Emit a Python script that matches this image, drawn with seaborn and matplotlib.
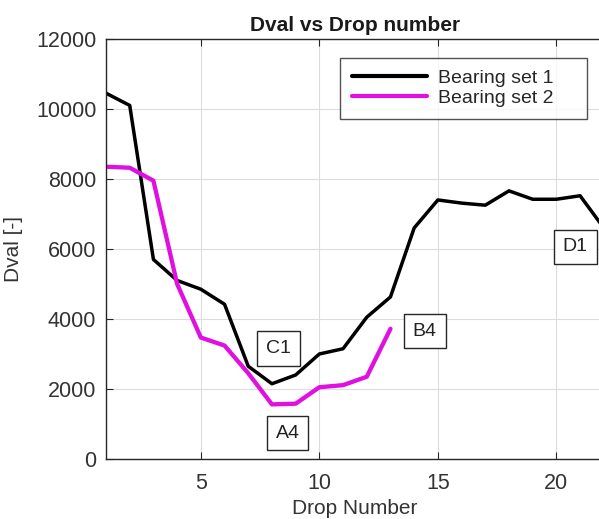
import numpy as np
import pandas as pd
import matplotlib
matplotlib.use("Agg")
import matplotlib.pyplot as plt
import seaborn as sns

# Dval readings per drop for each bearing set
drops_set1 = list(range(1, 23))
dval_set1 = [10450, 10100, 5700, 5100, 4850, 4420, 2650, 2150, 2400, 3000,
             3150, 4050, 4630, 6600, 7400, 7310, 7250, 7660, 7420, 7420,
             7520, 6600]
drops_set2 = list(range(1, 14))
dval_set2 = [8350, 8320, 7950, 5000, 3470, 3240, 2450, 1560, 1580, 2050,
             2110, 2350, 3720]

series_names = ["Bearing set 1", "Bearing set 2"]
series_colors = ["#000000", "#e010e0"]

# Labelled points: (label, drop number, Dval)
box_labels = ["C1", "A4", "B4", "D1"]
box_x = [8.28, 8.66, 14.45, 20.8]
box_y = [3150, 740, 3650, 6060]

df = pd.concat([
    pd.DataFrame({"Drop": drops_set1, "Dval": dval_set1, "Set": series_names[0]}),
    pd.DataFrame({"Drop": drops_set2, "Dval": dval_set2, "Set": series_names[1]}),
], ignore_index=True)

sns.set_theme(style="whitegrid")
plt.rcParams["font.family"] = ["Liberation Sans", "DejaVu Sans"]

fig = plt.figure(figsize=(5.99, 5.19), dpi=100)
ax = fig.add_axes([0.177, 0.1156, 0.831, 0.8094])

sns.lineplot(data=df, x="Drop", y="Dval", hue="Set", palette=series_colors,
             linewidth=2.5, ax=ax, legend=True)
# the second set is drawn a little heavier
ax.get_lines()[1].set_linewidth(3.1)

ax.set_xlim(1, 22)
ax.set_ylim(0, 12000)
ax.set_xticks([5, 10, 15, 20])
ax.set_yticks(np.arange(0, 12001, 2000))
ax.grid(True, color="#dcdcdc", linewidth=0.8)
ax.set_facecolor("white")

for side in ["top", "left", "bottom"]:
    ax.spines[side].set_visible(True)
    ax.spines[side].set_color("#262626")
    ax.spines[side].set_linewidth(1.0)
ax.spines["right"].set_visible(False)

ax.tick_params(axis="both", direction="in", length=5, width=0.8,
               color="#262626", labelsize=15.5, labelcolor="#333333",
               top=True, bottom=True, left=True, right=False)
ax.tick_params(axis="x", pad=10)
ax.tick_params(axis="y", pad=7)

ax.set_xlabel("Drop Number", fontsize=15, color="#333333", labelpad=4)
ax.set_ylabel("Dval [-]", fontsize=15, color="#333333", labelpad=9)
ax.set_title("Dval vs Drop number", fontsize=15, fontweight="bold",
             color="#1a1a1a", pad=6)

# legend box stretched to a fixed width, entries left-aligned inside it
leg = ax.legend(loc="upper right", bbox_to_anchor=(0.470, 0.5, 0.496, 0.455),
                mode="expand", borderaxespad=0, fontsize=14, frameon=True,
                fancybox=False, handlelength=3.9, borderpad=0.6,
                labelspacing=0.12, handletextpad=0.55)
leg.get_frame().set_edgecolor("#262626")
leg.get_frame().set_linewidth(1.0)
for line in leg.get_lines():
    line.set_linewidth(3.0)

for lab, bx, by in zip(box_labels, box_x, box_y):
    ax.text(bx, by, lab, fontsize=14, color="#222222", ha="center", va="center",
            bbox=dict(boxstyle="square,pad=0.45", facecolor="white",
                      edgecolor="#262626", linewidth=1.0))

fig.savefig("out.png", dpi=100)
